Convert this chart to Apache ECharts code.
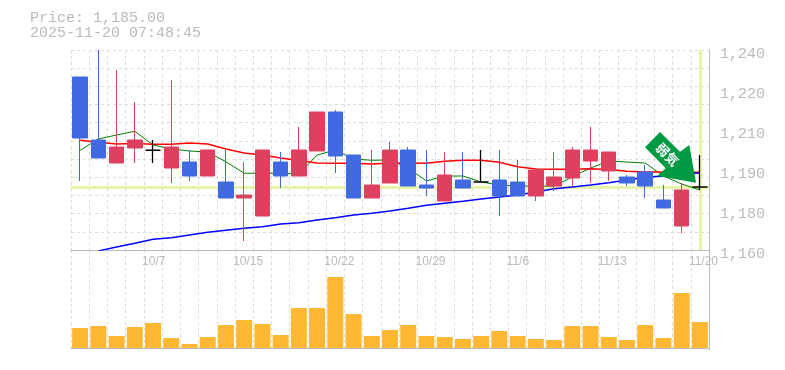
<!DOCTYPE html>
<html><head><meta charset="utf-8">
<style>html,body{margin:0;padding:0;background:#fff}#c{width:785px;height:370px}</style>
<script src="https://cdn.jsdelivr.net/npm/echarts@6/dist/echarts.min.js"></script>
</head><body><div id="c"></div>
<script>
const priceLine = 'Price: 1,185.00';
const timeLine = '2025-11-20 07:48:45';
const categories = ['10/1','10/2','10/3','10/6','10/7','10/8','10/9','10/10','10/14','10/15','10/16','10/17','10/20','10/21','10/22','10/23','10/24','10/27','10/28','10/29','10/30','10/31','11/4','11/5','11/6','11/7','11/10','11/11','11/12','11/13','11/14','11/17','11/18','11/19','11/20'];
// open, close, low, high
const blueCandles = {0:[1229.2,1204.8,1187.6,1229.2],1:[1204,1196.8,1196.8,1240],6:[1195.2,1189.6,1187.6,1200],8:[1187.2,1180.8,1180.8,1200],11:[1195.2,1189.6,1184.8,1199.2],14:[1215.2,1197.6,1190.8,1216],15:[1198,1180.8,1180.8,1198],18:[1200,1185.6,1185.6,1201.2],19:[1186,1184.8,1181.6,1200],21:[1188,1184.8,1184.8,1199.2],23:[1188,1181.6,1173.6,1200],24:[1187.2,1181.6,1181.6,1196],30:[1189.2,1186.8,1185.6,1190],31:[1191.2,1185.6,1180.8,1194],32:[1180,1176.8,1176.8,1186]};
const redCandles = {2:[1194.8,1201.2,1194.8,1232],3:[1200.8,1204,1194.8,1219.2],5:[1192.8,1201.2,1186.8,1228],7:[1189.6,1200,1189.6,1200],9:[1180.8,1182,1163.6,1195.2],10:[1173.6,1200,1173.6,1200],12:[1189.6,1200,1189.6,1209.2],13:[1199.6,1215.2,1199.6,1215.2],16:[1180.8,1186,1180.8,1200],17:[1186.8,1200,1186.8,1203.2],20:[1179.6,1190,1179.6,1199.2],25:[1181.6,1192,1179.6,1192],26:[1185.6,1189.2,1183.6,1199.2],27:[1188.8,1200,1185.6,1201.2],28:[1195.6,1200,1186.8,1209.2],29:[1191.6,1199.2,1187.6,1199.2],33:[1169.6,1184,1166.8,1186.8]};
const dojiCandles = {4:[1199.9,1199.9,1194.8,1204],22:[1187.2,1187.2,1187.2,1200],34:[1185.2,1185.2,1184,1198]};
const maShort = [1199.9,1204.4,1206,1207.5,1202,1200.4,1199.6,1199.2,1195.3,1190.7,1190.7,1190.7,1190.4,1198,1200,1196.4,1195.9,1196,1192.8,1187.6,1189.6,1189.6,1187.2,1186,1185.6,1185.6,1185.6,1189.2,1192.8,1195.6,1195.2,1194.8,1189.6,1186.4,1184];
const maMid = [1203.9,1203.1,1202.4,1202.6,1202.3,1202.3,1202.8,1202.4,1200.4,1198.8,1198,1196.8,1195.8,1194.8,1194.7,1194.7,1194.4,1194.8,1194.8,1194.7,1195.5,1195.9,1195.9,1195.1,1193.3,1192.4,1192.3,1192.3,1192.5,1192.2,1191.5,1191.2,1191.2,1191.2,1191.1];
const maLong = [null,1159.6,1161.2,1162.7,1164.3,1164.9,1166,1167.1,1167.9,1168.7,1169.3,1170.4,1170.9,1172,1172.9,1174,1174.7,1175.6,1176.7,1177.9,1178.7,1179.5,1180.4,1181.2,1182,1183.2,1184.5,1185.2,1186,1186.9,1188,1189.1,1189.6,1190.4,1190.8];
const volumes = [20,22,12,21,25,10,4,11,23,28,24,13,40,40,71,34,12,18,23,12,11,9,12,17,12,9,8,22,22,11,8,23,10,55,26];
const axisTicks = [1160,1176,1192,1208,1224,1240];
const gridTicks = [1160,1167.27,1174.55,1181.82,1189.09,1196.36,1203.64,1210.91,1218.18,1225.45,1232.73,1240];
const currentPrice = 1185.2;
const signalText = '弱気';

const BLUE='#4169e1', RED='#e04060', GRAY='#bbbbbb', LIME='#e6f5a8', GRID='#dddddd';
const candle = (src)=>categories.map((_,i)=>src[i]||'-');
const candleSeries=(name,src,color,bw,bord)=>({name,type:'candlestick',xAxisIndex:0,yAxisIndex:0,barWidth:bw,z:3,
  data:candle(src),itemStyle:{color,color0:color,borderColor:color,borderColor0:color,borderColorDoji:color,borderWidth:bord},silent:true});
const lineSeries=(name,data,color,w)=>({name,type:'line',xAxisIndex:0,yAxisIndex:0,data,symbol:'none',z:2,
  lineStyle:{color,width:w},silent:true});
const dashed={show:true,lineStyle:{color:GRID,type:[3,3],width:1}};
const tickShow=(i)=>i%5===4;
const chart=echarts.init(document.getElementById('c'),null,{renderer:'canvas'});
chart.setOption({
  animation:false,backgroundColor:'#fff',
  title:{text:priceLine+'\n'+timeLine,left:25,top:6,textStyle:{color:GRAY,fontFamily:'Liberation Mono',fontWeight:'normal',fontSize:15,lineHeight:15}},
  grid:[{left:71,width:638,top:50,height:200},{left:71,width:638,top:250,height:100}],
  xAxis:[
    {type:'category',gridIndex:0,data:categories,boundaryGap:true,
      axisLine:{show:true,lineStyle:{color:GRAY,width:1}},axisTick:{show:false},
      axisLabel:{show:true,interval:(i)=>tickShow(i),color:GRAY,margin:6,padding:[0,0,0,8],hideOverlap:false,
        formatter:(v)=>'{a|'+v+'}',rich:{a:{width:30,align:'left',color:GRAY,fontFamily:'Liberation Sans',fontSize:12}}},
      splitLine:{...dashed,interval:0}},
    {type:'category',gridIndex:1,data:categories,boundaryGap:true,
      axisLine:{show:true,lineStyle:{color:GRAY,width:1}},axisTick:{show:false},axisLabel:{show:false},
      splitLine:{...dashed,interval:0}}
  ],
  yAxis:[
    {type:'value',gridIndex:0,position:'right',min:1160,max:1240,
      axisLine:{show:true,onZero:false,lineStyle:{color:GRAY,width:1}},
      axisTick:{show:false,customValues:gridTicks},
      axisLabel:{customValues:axisTicks,color:GRAY,margin:11,
        formatter:(v)=>'{a|'+(Math.round(v/10)*10).toLocaleString('en-US')+'}',
        rich:{a:{color:GRAY,fontFamily:'Liberation Mono',fontSize:15,lineHeight:15,padding:[8,0,0,0]}}},
      splitLine:dashed},
    {type:'value',gridIndex:1,position:'right',min:-2,max:98,
      axisLine:{show:true,onZero:false,lineStyle:{color:GRAY,width:1}},axisTick:{show:false},axisLabel:{show:false},splitLine:{show:false}}
  ],
  series:[
    {name:'levels',type:'line',xAxisIndex:0,yAxisIndex:0,data:[],z:1,silent:true,symbol:'none',
      markLine:{silent:true,symbol:'none',label:{show:false},animation:false,z:1,
        data:[{yAxis:currentPrice,lineStyle:{color:LIME,width:3,type:'solid'}},{xAxis:34,lineStyle:{color:LIME,width:3,type:'solid'}}]}},
    lineSeries('MA short',maShort,'#008000',1),
    lineSeries('MA mid',maMid,'#ff0000',1.3),
    lineSeries('MA long',maLong,'#0000ff',1.3),
    candleSeries('down',blueCandles,BLUE,15,1),
    candleSeries('up',redCandles,RED,15,1),
    candleSeries('flat',dojiCandles,'#000000',16,1.3),
    {name:'volume',type:'bar',xAxisIndex:1,yAxisIndex:1,data:volumes,barWidth:16,itemStyle:{color:'#ffb833'},silent:true}
  ],
  graphic:[
    {type:'polygon',z:50,shape:{points:[[660,132],[680,151.7],[689.3,145],[696,182.7],[657.3,176],[665.7,168.3],[645,147.3]]},style:{fill:'#009944'}},
    {type:'text',z:51,x:667.5,y:154.5,rotation:-Math.PI/4,style:{text:signalText,fill:'#fff',font:'bold 13px "Noto Sans CJK JP"',align:'center',verticalAlign:'middle'}}
  ]
});
</script></body></html>
